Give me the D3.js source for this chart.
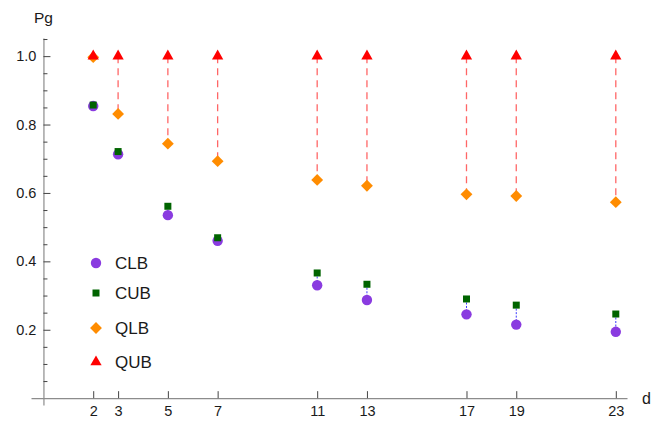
<!DOCTYPE html>
<html>
<head>
    <title>Pg vs d</title>
    <style>
        body { margin: 0; background: #fff; }
        text { font-family: "Liberation Sans", Arial, sans-serif; fill: #1a1a1a; }
        .axis .domain { stroke: #8c8c8c; stroke-width: 1.2px; }
        .axis line { stroke: #444; stroke-width: 1px; }
        .axis text { font-size: 14.5px; }
    </style>
    <script src="https://d3js.org/d3.v7.min.js"></script>
</head>
<body>
    <div id="chart"></div>
    <script>
        // data
        const dims = [2, 3, 5, 7, 11, 13, 17, 19, 23];
        const clb = [0.854, 0.713, 0.535, 0.460, 0.330, 0.287, 0.245, 0.215, 0.194];
        const cub = [0.857, 0.721, 0.561, 0.469, 0.366, 0.333, 0.290, 0.272, 0.246];
        const qlb = [0.997, 0.831, 0.744, 0.693, 0.638, 0.621, 0.596, 0.591, 0.573];
        const qub = [1, 1, 1, 1, 1, 1, 1, 1, 1];

        const yMajor = [0.2, 0.4, 0.6, 0.8, 1.0];
        const yMinor = [0.05, 0.1, 0.15, 0.25, 0.3, 0.35, 0.45, 0.5, 0.55, 0.65, 0.7, 0.75, 0.85, 0.9, 0.95, 1.05];

        const width = 664, height = 422;

        const x = d3.scaleLinear().domain([-0.5, 23.45]).range([31, 627]);
        const y = d3.scaleLinear().domain([-0.02, 1.053]).range([405, 38]);

        const svg = d3.select("#chart").append("svg")
            .attr("width", width)
            .attr("height", height);

        // axes
        svg.append("g")
            .attr("class", "axis")
            .attr("transform", `translate(0,${y(0)})`)
            .call(d3.axisBottom(x).tickValues(dims).tickSizeInner(-7).tickSizeOuter(0).tickPadding(8));

        svg.append("g")
            .attr("class", "axis")
            .attr("transform", `translate(${x(0)},0)`)
            .call(d3.axisLeft(y).tickValues(yMinor).tickSizeInner(-4).tickSizeOuter(0).tickFormat(""));

        svg.append("g")
            .attr("class", "axis")
            .attr("transform", `translate(${x(0)},0)`)
            .call(d3.axisLeft(y).tickValues(yMajor).tickSizeInner(-7).tickSizeOuter(0).tickPadding(7).tickFormat(d3.format(".1f")))
            .call(g => g.select(".domain").remove());

        svg.append("text").attr("x", 34).attr("y", 23).style("font-size", "15.5px").text("Pg");
        svg.append("text").attr("x", 642).attr("y", 404).style("font-size", "16px").text("d");

        const pts = dims.map((d, i) => ({d, clb: clb[i], cub: cub[i], qlb: qlb[i], qub: qub[i]}));

        // gap lines
        svg.append("g").selectAll("line")
            .data(pts).enter().append("line")
            .attr("x1", p => x(p.d)).attr("x2", p => x(p.d))
            .attr("y1", p => y(p.qub)).attr("y2", p => y(p.qlb))
            .attr("stroke", "rgba(255,0,0,0.6)")
            .attr("stroke-width", 1.3)
            .attr("stroke-dasharray", "7,5");

        svg.append("g").selectAll("line")
            .data(pts).enter().append("line")
            .attr("x1", p => x(p.d)).attr("x2", p => x(p.d))
            .attr("y1", p => y(p.cub)).attr("y2", p => y(p.clb))
            .attr("stroke", "#3a3aff")
            .attr("stroke-width", 1)
            .attr("stroke-dasharray", "2,1.5");

        // diamond = square turned 45 degrees (d3's diamond is too tall)
        const series = [
            {name: "CLB", key: "clb", color: "#8a3be0", sym: d3.symbolCircle, size: 85, rot: 0},
            {name: "CUB", key: "cub", color: "#006400", sym: d3.symbolSquare, size: 49, rot: 0},
            {name: "QLB", key: "qlb", color: "#ff8c00", sym: d3.symbolSquare, size: 70, rot: 45},
            {name: "QUB", key: "qub", color: "#ff0000", sym: d3.symbolTriangle, size: 55, rot: 0}
        ];

        series.forEach(s => {
            const sym = d3.symbol().type(s.sym).size(s.size);
            svg.append("g").selectAll("path")
                .data(pts).enter().append("path")
                .attr("d", sym)
                .attr("transform", p => `translate(${x(p.d)},${y(p[s.key])}) rotate(${s.rot})`)
                .attr("fill", s.color);
        });

        // legend
        const legendY = [263, 293, 328, 362];
        const legend = svg.append("g");
        series.forEach((s, i) => {
            legend.append("path")
                .attr("d", d3.symbol().type(s.sym).size(s.size))
                .attr("transform", `translate(96,${legendY[i]}) rotate(${s.rot})`)
                .attr("fill", s.color);
            legend.append("text")
                .attr("x", 115)
                .attr("y", legendY[i])
                .attr("dy", "0.36em")
                .style("font-size", "17px")
                .text(s.name);
        });
    </script>
</body>
</html>
